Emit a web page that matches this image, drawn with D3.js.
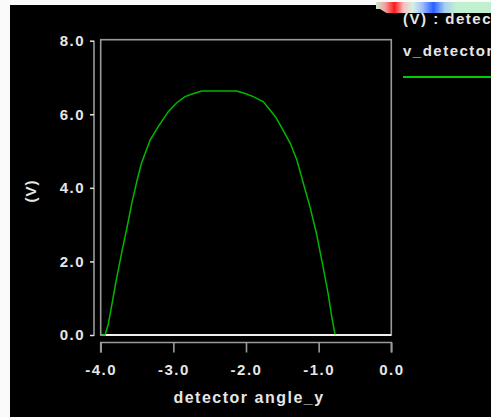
<!DOCTYPE html>
<html><head><meta charset="utf-8">
<script src="https://cdn.jsdelivr.net/npm/d3@7"></script>
<style>html,body{margin:0;padding:0;background:#fafafa;overflow:hidden}</style>
</head><body>
<script>
const xValues = [-4.00,-3.94,-3.895,-3.835,-3.79,-3.70,-3.64,-3.57,-3.50,-3.44,-3.32,-3.21,-3.07,-2.96,-2.84,-2.73,-2.61,-2.50,-2.35,-2.22,-2.13,-2.02,-1.90,-1.76,-1.65,-1.58,-1.49,-1.39,-1.30,-1.21,-1.12,-1.03,-0.94,-0.87,-0.82,-0.775];
const yValues = [0,0,0.30,0.95,1.45,2.35,2.90,3.60,4.20,4.66,5.30,5.66,6.07,6.30,6.48,6.56,6.63,6.63,6.63,6.63,6.63,6.57,6.48,6.34,6.07,5.89,5.57,5.21,4.76,4.12,3.49,2.76,1.86,1.13,0.50,0.02];
const xTicks = [-4,-3,-2,-1,0];
const yTicks = [0,2,4,6,8];
const xTitle = "detector angle_y";
const yTitle = "(V)";
const legendTitle = "(V) : detector angle_y";
const seriesName = "v_detector";

const W = 491, H = 417;
const svg = d3.select("body").append("svg").attr("width", W).attr("height", H);
const defs = svg.append("defs");
const grad = defs.append("linearGradient").attr("id","cb").attr("x1","0").attr("x2","1");
[[0,"#c8ecc8"],[0.08,"#f0a0a0"],[0.16,"#ff1818"],[0.24,"#f4c0c0"],[0.32,"#d8f0e0"],[0.4,"#a0c0ff"],[0.5,"#2860ff"],[0.6,"#a8d0f0"],[0.7,"#c0f0d0"],[1,"#c0f0d0"]]
  .forEach(([o,c]) => grad.append("stop").attr("offset", o).attr("stop-color", c));

svg.append("rect").attr("x",0).attr("y",0).attr("width",W).attr("height",H).attr("fill","#fafafa");
svg.append("rect").attr("x",10).attr("y",5).attr("width",W-10).attr("height",H-5).attr("fill","#000");
svg.append("rect").attr("x",376).attr("y",2).attr("width",W-376).attr("height",11).attr("fill","url(#cb)");
svg.append("path").attr("d","M370,9 L380,9 L388,14 L370,14 Z").attr("fill","#000");

const x = d3.scaleLinear().domain([-4,0]).range([100.7,391.3]);
const y = d3.scaleLinear().domain([0,8]).range([335,40.7]);

const textColor = "#e6e6e6";
const font = "'Liberation Sans', Arial, sans-serif";
const fmt = d => d3.format(".1f")(d).replace("\u2212","-");

// frame
svg.append("rect").attr("x",x(-4)).attr("y",y(8)-1).attr("width",x(0)-x(-4)).attr("height",y(0)-y(8)+1)
  .attr("fill","none").attr("stroke","#9a9a9a").attr("stroke-width",1.6);
svg.append("line").attr("x1",x(-4)).attr("x2",x(0)).attr("y1",y(0)).attr("y2",y(0))
  .attr("stroke","#f0f0f0").attr("stroke-width",1.8);

// y axis
const yAxis = d3.axisLeft(y).tickValues(yTicks).tickFormat(fmt).tickSize(4).tickPadding(5);
const gy = svg.append("g").attr("transform","translate(94,0)").call(yAxis);
gy.select(".domain").attr("stroke","#9a9a9a").attr("stroke-width",1.6).attr("d",`M0,${y(8)}V${y(0)+1}`);
gy.selectAll(".tick line").attr("stroke","#e0e0e0").attr("stroke-width",1.5);
gy.selectAll(".tick text").attr("fill",textColor).attr("font-family",font).attr("font-weight","bold")
  .attr("font-size","15px").attr("letter-spacing","1.5px");

// x axis
const xAxis = d3.axisBottom(x).tickValues(xTicks).tickFormat(fmt).tickSize(10).tickPadding(12);
const gx = svg.append("g").attr("transform","translate(0,342.5)").call(xAxis);
gx.select(".domain").attr("stroke","#9a9a9a").attr("stroke-width",1.6).attr("d",`M${x(-4)},10V0H${x(0)}V10`);
gx.selectAll(".tick line").attr("stroke","#9a9a9a").attr("stroke-width",1.6);
gx.selectAll(".tick text").attr("fill",textColor).attr("font-family",font).attr("font-weight","bold")
  .attr("font-size","15px").attr("letter-spacing","1.5px");

// titles
svg.append("text").attr("x",249).attr("y",403).attr("text-anchor","middle").attr("fill",textColor)
  .attr("font-family",font).attr("font-weight","bold").attr("font-size","16px").attr("letter-spacing","1.5px").text(xTitle);
svg.append("text").attr("transform","translate(36,191) rotate(-90)").attr("text-anchor","middle").attr("fill",textColor)
  .attr("font-family",font).attr("font-weight","bold").attr("font-size","15px").attr("letter-spacing","1px").text(yTitle);

// legend
svg.append("text").attr("x",403).attr("y",24).attr("fill",textColor).attr("font-family",font).attr("font-weight","bold")
  .attr("font-size","15px").attr("letter-spacing","1.5px").text(legendTitle);
svg.append("text").attr("x",403).attr("y",56).attr("fill",textColor).attr("font-family",font).attr("font-weight","bold")
  .attr("font-size","15px").attr("letter-spacing","1.5px").text(seriesName);
svg.append("line").attr("x1",403).attr("x2",W).attr("y1",77).attr("y2",77).attr("stroke","#00cc00").attr("stroke-width",2);

// series
const data = xValues.map((v,i) => [v, yValues[i]]);
svg.append("path").datum(data).attr("fill","none").attr("stroke","#00b800").attr("stroke-width",1.5)
  .attr("d", d3.line().x(d => x(d[0])).y(d => y(d[1])));
</script>
</body></html>
